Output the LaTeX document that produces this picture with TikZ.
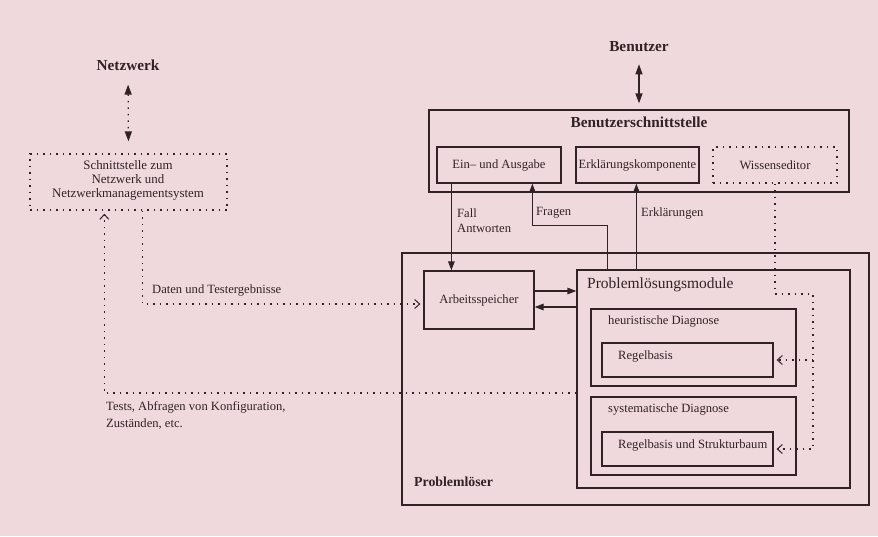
\documentclass[tikz,border=0pt]{standalone}
\usepackage{fontspec}
\setmainfont{Liberation Serif}
\usetikzlibrary{arrows.meta}
\definecolor{bg}{RGB}{240,217,220}
\definecolor{ink}{RGB}{48,34,37}
\tikzset{
  box/.style={draw=ink, line width=1.25pt, inner sep=0pt, text=ink},
  dotbox/.style={box, line width=1.3pt, dash pattern=on 1.5pt off 5pt},
  txt/.style={text=ink, inner sep=0pt, font=\fontsize{12.6}{14.5}\selectfont},
  bigtxt/.style={text=ink, inner sep=0pt, font=\fontsize{15.5}{18}\selectfont},
  boldtxt/.style={text=ink, inner sep=0pt, font=\fontsize{15.3}{18}\selectfont\bfseries},
  arr/.style={draw=ink, line width=1.25pt, -{Triangle[length=9pt,width=6.5pt]}},
  dotline/.style={draw=ink, line width=1.3pt, dash pattern=on 1.5pt off 5pt},
  openarr/.style={dotline, -{Straight Barb[length=5pt,width=9pt,line width=1pt]}, shorten >=3pt},
}
\begin{document}
\begin{tikzpicture}[x=1pt,y=-1pt]
\fill[bg] (0,0) rectangle (878,536);
\useasboundingbox (0,0) rectangle (878,536);

% left part
\node[boldtxt] (net) at (128,65) {Netzwerk};
\node[dotbox, minimum width=197pt, minimum height=56pt] (schnitt) at (128.5,182) {};
\node[txt, align=center, font=\fontsize{12.9}{14}\selectfont] (schnitttext) at (128,180) {Schnittstelle zum\\Netzwerk und\\Netzwerkmanagementsystem};
\draw[dotline, {Triangle[length=10pt,width=7pt]}-{Triangle[length=10pt,width=7pt]}, shorten <=14pt, shorten >=12pt] (net.south) -- (schnitt.north);

% user interface
\node[boldtxt] (ben) at (639,47) {Benutzer};
\node[box, minimum width=420pt, minimum height=82pt] (bsst) at (639,151) {};
\node[boldtxt] (bssttitle) at (639,122) {Benutzerschnittstelle};
\draw[draw=ink, line width=1.3pt, {Triangle[length=10pt,width=7pt]}-{Triangle[length=10pt,width=7pt]}, shorten <=12pt, shorten >=6pt] (ben.south) -- (bsst.north);
\node[box, txt, minimum width=124pt, minimum height=36pt] (eaus) at (499,165) {Ein-- und Ausgabe};
\node[box, txt, minimum width=123pt, minimum height=36pt] (erkl) at (637.5,165) {Erklärungskomponente};
\node[dotbox, txt, minimum width=124pt, minimum height=36pt] (wiss) at (775,165) {Wissenseditor};

% problem solver
\node[box, minimum width=467pt, minimum height=252pt] (ploeser) at (635.5,379) {};
\node[boldtxt, font=\fontsize{13.8}{16}\selectfont\bfseries, anchor=west] (ploesertext) at (414,482) {Problemlöser};
\node[box, txt, minimum width=110pt, minimum height=58pt] (arb) at (479,300) {Arbeitsspeicher};
\node[box, minimum width=273pt, minimum height=218pt] (plm) at (713.5,379) {};
\node[bigtxt, anchor=west] (plmtext) at (587,285) {Problemlösungsmodule};
\node[box, minimum width=205pt, minimum height=77pt] (heur) at (693.5,347.5) {};
\node[txt, anchor=west] (heurtext) at (608,321) {heuristische Diagnose};
\node[box, minimum width=171pt, minimum height=34pt] (rb1) at (687.5,360) {};
\node[txt, anchor=west] (rb1text) at (618,356) {Regelbasis};
\node[box, minimum width=205pt, minimum height=78pt] (sys) at (693.5,436) {};
\node[txt, anchor=west] (systext) at (608,409) {systematische Diagnose};
\node[box, minimum width=171pt, minimum height=34pt] (rb2) at (687.5,449) {};
\node[txt, anchor=west] (rb2text) at (618,445) {Regelbasis und Strukturbaum};

% solid connectors
\draw[arr] ([xshift=15pt]eaus.south west) -- ([xshift=28pt]arb.north west);
\node[txt, anchor=west, align=left, font=\fontsize{12.6}{15}\selectfont] (fall) at (457,221) {Fall\\Antworten};
\draw[arr] ([xshift=31pt]plm.north west) -- ++(0,-44) -| ([xshift=96pt]eaus.south west);
\node[txt, anchor=west] (fragen) at (536,213) {Fragen};
\draw[arr] ([xshift=60pt]plm.north west) -- ([xshift=61pt]erkl.south west);
\node[txt, anchor=west] (erkltext) at (641,213) {Erklärungen};
\draw[arr] ([yshift=9pt]arb.east) -- ([yshift=9pt]arb.east -| plm.west);
\draw[arr] ([yshift=-7pt]arb.east -| plm.west) -- ([yshift=-7pt]arb.east);

% dotted connectors
\draw[openarr] ([xshift=113pt]schnitt.south west) |- ([yshift=-4pt]arb.west);
\node[txt, anchor=west] (daten) at (152,290) {Daten und Testergebnisse};
\draw[openarr] ([yshift=-14pt]plm.west) -| ([xshift=75pt]schnitt.south west);
\node[txt, anchor=west, align=left, font=\fontsize{12.6}{17}\selectfont] (tests) at (106,416) {Tests, Abfragen von Konfiguration,\\Zuständen, etc.};
\coordinate (w2) at (813,294);
\draw[openarr] (wiss.south) -- (wiss.south |- w2) -- (w2) |- (rb2.east);
\draw[openarr] (w2 |- rb1.east) -- (rb1.east);
\end{tikzpicture}
\end{document}
